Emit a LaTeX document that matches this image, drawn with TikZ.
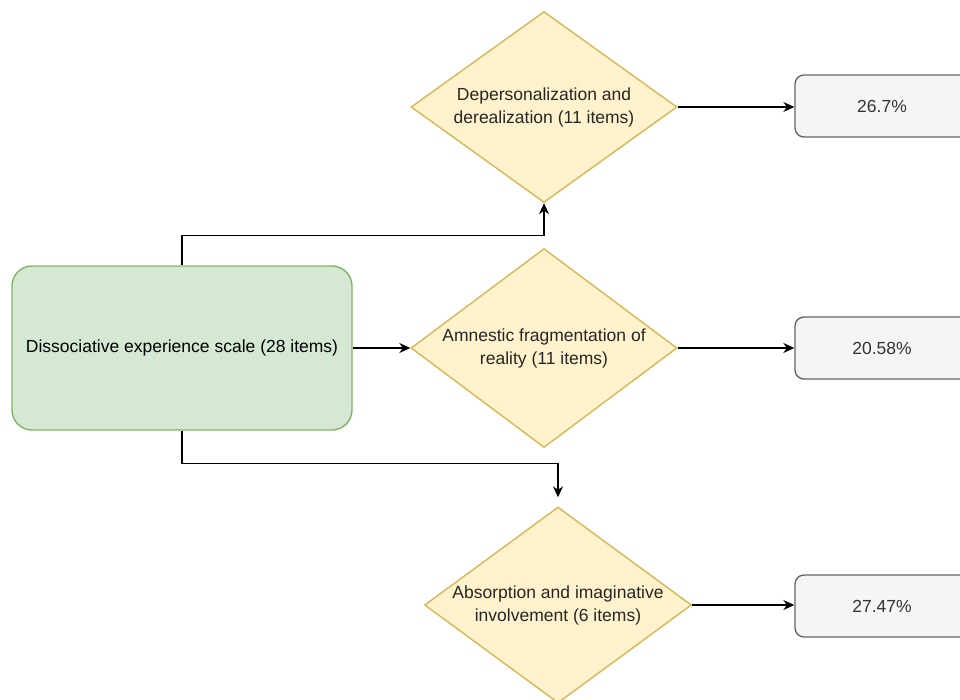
\documentclass[tikz,border=0pt]{standalone}
\usepackage{fontspec}
\setmainfont{Liberation Sans}
\usetikzlibrary{arrows.meta,shapes.geometric}

\definecolor{greenfill}{HTML}{D5E8D4}
\definecolor{greenline}{HTML}{82B366}
\definecolor{yellowfill}{HTML}{FFF2CC}
\definecolor{yellowline}{HTML}{D6B656}
\definecolor{grayfill}{HTML}{F5F5F5}
\definecolor{grayline}{HTML}{666666}
\definecolor{graytext}{HTML}{333333}

\begin{document}
\begin{tikzpicture}[x=1pt, y=-1pt, >={Stealth[length=11pt,width=10pt]}, line width=1.4pt,
  every node/.style={font=\fontsize{17.5}{23}\selectfont},
  scalebox/.style={draw=greenline, fill=greenfill, rounded corners=20pt,
    minimum width=340pt, minimum height=164pt, inner sep=0pt},
  factor/.style={diamond, draw=yellowline, fill=yellowfill, inner sep=0pt},
  factortext/.style={align=center, text=black!85},
  result/.style={draw=grayline, fill=grayfill, rounded corners=9pt, text=graytext,
    minimum width=174pt, minimum height=62pt, inner sep=0pt}]
  \useasboundingbox (0,0) rectangle (960,699);
  \node[scalebox] (des) at (182,348) {Dissociative experience scale (28 items)};
  % the diamonds keep their own size, the text sits on them as a centre label
  \node[factor, minimum width=266pt, minimum height=191pt,
    label={[factortext]center:Depersonalization and\\derealization (11 items)}] (dep) at (544,107) {};
  \node[factor, minimum width=266pt, minimum height=199pt,
    label={[factortext]center:Amnestic fragmentation of\\reality (11 items)}] (amn) at (544,348) {};
  \node[factor, minimum width=267pt, minimum height=196pt,
    label={[factortext]center:Absorption and imaginative\\involvement (6 items)}] (abs) at (558,605) {};
  \node[result] (r1) at (882,106) {26.7\%};
  \node[result] (r2) at (882,348) {20.58\%};
  \node[result] (r3) at (882,606) {27.47\%};
  % branches from the scale
  \draw[->] (des.north) -- ++(0,-30) -| (dep.south);
  \draw[->] (des.east) -- (amn.west);
  \draw[->, shorten >=9pt] (des.south) -- ++(0,33) -| (abs.north);
  % factor scores
  \draw[->] (dep.east) -- (dep.east -| r1.west);
  \draw[->] (amn.east) -- (r2.west);
  \draw[->] (abs.east) -- (abs.east -| r3.west);
\end{tikzpicture}
\end{document}
